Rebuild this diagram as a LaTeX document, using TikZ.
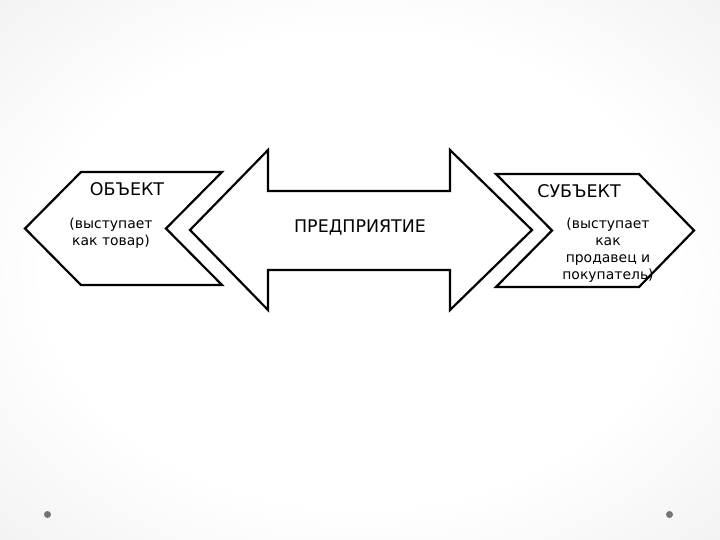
\documentclass[tikz,border=0pt]{standalone}
\usepackage{fontspec}
\setmainfont{DejaVu Sans}
\usetikzlibrary{positioning}
\pgfdeclareradialshading{slidebg}{\pgfpoint{0bp}{0bp}}{color(0bp)=(white); color(22bp)=(white); color(50bp)=(black!10); color(71bp)=(black!16)}

\begin{document}
\begin{tikzpicture}[
    x=1bp, y=-1bp,
    font=\fontsize{14}{17}\selectfont,
    block/.style={draw=black, fill=white, line width=2.2bp, line join=miter},
    txt/.style={align=center, inner sep=0pt},
    head/.style={txt, font=\fontsize{17.5}{20}\selectfont},
    dot/.style={circle, fill=black!55, inner sep=0pt, minimum width=5bp, minimum height=7bp}
]
% slide background
\shade[shading=slidebg] (0,0) rectangle (720,540);

% object (left)
\draw[block] (25,228.5) -- (81,172) -- (222,172) -- (166,228.5) -- (222,285) -- (81,285) -- cycle;
% enterprise (double arrow)
\draw[block] (190,230) -- (268,150) -- (268,191) -- (450,191) -- (450,150) -- (532,230)
    -- (450,310) -- (450,270) -- (268,270) -- (268,310) -- cycle;
% subject (right)
\draw[block] (496,174) -- (639,174) -- (694,230.5) -- (639,287) -- (496,287) -- (552,230.5) -- cycle;

\node[head] (obj) at (127,189) {ОБЪЕКТ};
\node[txt] (objnote) at (111,233.5) {(выступает\\как товар)};
\node[head] (pred) at (360,228) {ПРЕДПРИЯТИЕ};
\node[head] (subj) at (579,191) {СУБЪЕКТ};
\node[txt] (subjnote) at (608,250) {(выступает\\как\\продавец и\\покупатель)};

\node[dot] (dotl) at (47.5,514.5) {};
\node[dot] (dotr) at (669.5,514.5) {};
\end{tikzpicture}
\end{document}
